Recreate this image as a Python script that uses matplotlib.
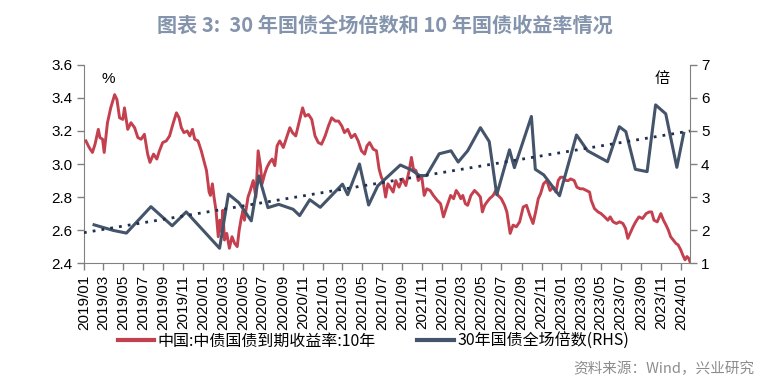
import matplotlib
matplotlib.use("Agg")
import matplotlib.pyplot as plt
import matplotlib.dates as mdates
import numpy as np
import pandas as pd

plt.rcParams['font.family'] = ['Noto Sans CJK SC', 'DejaVu Sans']

# 10Y yield (%)
yield_dates = [
    "2019-01-07", "2019-01-17", "2019-01-27", "2019-02-04", "2019-02-14", "2019-02-19", "2019-02-27",
    "2019-03-04", "2019-03-14", "2019-03-24", "2019-04-05", "2019-04-12", "2019-04-20", "2019-04-30",
    "2019-05-05", "2019-05-15", "2019-05-25", "2019-06-05", "2019-06-15", "2019-06-25", "2019-07-05",
    "2019-07-15", "2019-07-22", "2019-08-02", "2019-08-12", "2019-08-20", "2019-08-30", "2019-09-10",
    "2019-09-20", "2019-09-30", "2019-10-11", "2019-10-19", "2019-10-26", "2019-11-03", "2019-11-13",
    "2019-11-21", "2019-11-29", "2019-12-06", "2019-12-16", "2019-12-26", "2020-01-11", "2020-01-19",
    "2020-01-23", "2020-01-29", "2020-02-03", "2020-02-09", "2020-02-16", "2020-02-21", "2020-02-26",
    "2020-03-01", "2020-03-06", "2020-03-13", "2020-03-21", "2020-03-29", "2020-04-06", "2020-04-14",
    "2020-04-20", "2020-04-27", "2020-05-02", "2020-05-06", "2020-05-17", "2020-05-24", "2020-06-02",
    "2020-06-10", "2020-06-17", "2020-06-24", "2020-06-29", "2020-07-07", "2020-07-14", "2020-07-22",
    "2020-07-30", "2020-08-07", "2020-08-14", "2020-08-22", "2020-09-02", "2020-09-12", "2020-09-22",
    "2020-09-30", "2020-10-10", "2020-10-20", "2020-10-31", "2020-11-08", "2020-11-18", "2020-11-28",
    "2020-12-08", "2020-12-18", "2020-12-28", "2021-01-08", "2021-01-18", "2021-01-28", "2021-02-08",
    "2021-02-18", "2021-02-28", "2021-03-08", "2021-03-18", "2021-03-29", "2021-04-09", "2021-04-19",
    "2021-04-29", "2021-05-09", "2021-05-16", "2021-05-24", "2021-06-04", "2021-06-14", "2021-06-22",
    "2021-06-29", "2021-07-04", "2021-07-12", "2021-07-19", "2021-07-26", "2021-08-04", "2021-08-12",
    "2021-08-22", "2021-09-02", "2021-09-12", "2021-09-22", "2021-09-29", "2021-10-05", "2021-10-13",
    "2021-10-20", "2021-10-30", "2021-11-07", "2021-11-15", "2021-11-25", "2021-12-05", "2021-12-17",
    "2021-12-27", "2022-01-05", "2022-01-13", "2022-01-20", "2022-01-27", "2022-02-05", "2022-02-13",
    "2022-02-20", "2022-02-27", "2022-03-05", "2022-03-13", "2022-03-20", "2022-03-30", "2022-04-10",
    "2022-04-20", "2022-04-28", "2022-05-04", "2022-05-11", "2022-05-18", "2022-05-26", "2022-06-06",
    "2022-06-14", "2022-06-21", "2022-07-01", "2022-07-11", "2022-07-18", "2022-07-24", "2022-07-28",
    "2022-08-06", "2022-08-16", "2022-08-26", "2022-09-06", "2022-09-16", "2022-09-26", "2022-10-06",
    "2022-10-14", "2022-10-22", "2022-10-29", "2022-11-07", "2022-11-17", "2022-11-27", "2022-12-07",
    "2022-12-15", "2022-12-22", "2022-12-29", "2023-01-07", "2023-01-15", "2023-01-22", "2023-01-29",
    "2023-02-09", "2023-02-17", "2023-02-27", "2023-03-08", "2023-03-18", "2023-03-28", "2023-04-02",
    "2023-04-12", "2023-04-23", "2023-05-02", "2023-05-13", "2023-05-23", "2023-05-30", "2023-06-08",
    "2023-06-18", "2023-06-28", "2023-07-08", "2023-07-16", "2023-07-23", "2023-07-30", "2023-08-08",
    "2023-08-16", "2023-08-26", "2023-09-06", "2023-09-17", "2023-09-27", "2023-10-04", "2023-10-11",
    "2023-10-21", "2023-11-01", "2023-11-09", "2023-11-17", "2023-11-24", "2023-12-01", "2023-12-09",
    "2023-12-17", "2023-12-24", "2024-01-01", "2024-01-07", "2024-01-14", "2024-01-20", "2024-01-25",
    "2024-01-29",
]
yield_10y = [
    3.14, 3.10, 3.07, 3.12, 3.21, 3.16, 3.15,
    3.07, 3.25, 3.34, 3.42, 3.39, 3.28, 3.27,
    3.34, 3.21, 3.25, 3.22, 3.16, 3.15, 3.18,
    3.06, 3.01, 3.06, 3.03, 3.08, 3.13, 3.14,
    3.17, 3.24, 3.31, 3.28, 3.22, 3.19, 3.20,
    3.17, 3.21, 3.15, 3.14, 3.08, 2.96, 2.83,
    2.81, 2.88, 2.80, 2.72, 2.56, 2.66, 2.59,
    2.72, 2.54, 2.58, 2.49, 2.56, 2.52, 2.50,
    2.60, 2.68, 2.72, 2.66, 2.80, 2.84, 2.90,
    2.80, 3.08, 2.99, 2.88, 2.94, 2.98, 3.01,
    3.03, 2.99, 3.11, 3.14, 3.10, 3.16, 3.22,
    3.19, 3.17, 3.25, 3.34, 3.29, 3.30, 3.27,
    3.17, 3.13, 3.12, 3.17, 3.23, 3.28, 3.26,
    3.26, 3.23, 3.19, 3.21, 3.16, 3.18, 3.14,
    3.08, 3.06, 3.11, 3.13, 3.09, 3.08, 2.97,
    2.92, 2.90, 2.80, 2.88, 2.86, 2.83, 2.90,
    2.86, 2.91, 2.87, 2.96, 3.04, 2.97, 2.96,
    2.90, 2.93, 2.81, 2.85, 2.84, 2.81, 2.78,
    2.76, 2.68, 2.73, 2.77, 2.81, 2.79, 2.84,
    2.82, 2.79, 2.81, 2.76, 2.75, 2.81, 2.84,
    2.82, 2.80, 2.71, 2.75, 2.77, 2.79, 2.81,
    2.84, 2.81, 2.79, 2.75, 2.71, 2.63, 2.58,
    2.63, 2.62, 2.65, 2.74, 2.75, 2.69, 2.64,
    2.71, 2.79, 2.82, 2.88, 2.90, 2.84, 2.86,
    2.83, 2.90, 2.92, 2.92, 2.90, 2.90, 2.91,
    2.90, 2.86, 2.85, 2.85, 2.84, 2.83, 2.78,
    2.73, 2.71, 2.70, 2.68, 2.66, 2.68, 2.65,
    2.64, 2.65, 2.64, 2.61, 2.55, 2.58, 2.62,
    2.65, 2.68, 2.67, 2.70, 2.71, 2.71, 2.66,
    2.65, 2.70, 2.66, 2.63, 2.60, 2.56, 2.54,
    2.52, 2.51, 2.48, 2.45, 2.42, 2.44, 2.43,
    2.41,
]

# 30Y bid-to-cover (times), auction dates
auction_dates = [
    "2019-02-01", "2019-04-01", "2019-05-11", "2019-07-25", "2019-09-28", "2019-11-10",
    "2020-02-20", "2020-03-18", "2020-04-19", "2020-05-27", "2020-06-19", "2020-07-17",
    "2020-08-19", "2020-10-02", "2020-10-22", "2020-11-22", "2020-12-24", "2021-03-02",
    "2021-03-18", "2021-04-23", "2021-05-21", "2021-06-18", "2021-08-26", "2021-09-29",
    "2021-10-24", "2021-11-14", "2021-12-23", "2022-01-28", "2022-02-19", "2022-03-20",
    "2022-04-28", "2022-05-25", "2022-06-17", "2022-07-26", "2022-08-10", "2022-10-01",
    "2022-10-13", "2022-11-08", "2022-12-26", "2023-02-16", "2023-03-22", "2023-05-22",
    "2023-06-27", "2023-07-17", "2023-08-15", "2023-09-20", "2023-10-16", "2023-11-16",
    "2023-12-20", "2024-01-10",
]
bid_cover = [
    2.16, 1.99, 1.91, 2.71, 2.13, 2.55,
    1.45, 3.09, 2.83, 2.28, 3.64, 2.68,
    2.78, 2.63, 2.44, 2.92, 2.69, 3.39,
    3.07, 4.00, 2.76, 3.34, 3.97, 3.82,
    3.65, 3.65, 4.31, 4.40, 4.06, 4.40,
    5.10, 4.68, 3.07, 4.43, 3.89, 5.44,
    3.84, 3.67, 3.04, 4.88, 4.40, 4.07,
    5.13, 4.98, 3.84, 3.77, 5.79, 5.52,
    3.90, 4.93,
]

red = "#C4404E"
navy = "#44546A"

yd = pd.to_datetime(yield_dates)
ad = pd.to_datetime(auction_dates)
x0 = pd.Timestamp("2019-01-01")
x1 = pd.Timestamp("2024-01-29")

fig = plt.figure(figsize=(7.7, 3.91), dpi=100)
ax = fig.add_axes([0.109, 0.327, 0.787, 0.507])
ax2 = ax.twinx()

ax.plot(yd, yield_10y, color=red, lw=2.1, zorder=3)
ax2.plot(ad, bid_cover, color=navy, lw=2.2, zorder=3)

# linear trend of the bid-to-cover series
xn = mdates.date2num(ad)
k, b = np.polyfit(xn, bid_cover, 1)
tx = np.array([mdates.date2num(x0), mdates.date2num(x1)])
ax2.plot(tx, k * tx + b, color="#1F2F4D", lw=2, ls=(0, (1, 2.2)), zorder=4)

ax.set_xlim(x0, x1)
ax.set_ylim(2.4, 3.6)
ax.set_yticks(np.arange(2.4, 3.61, 0.2))
ax.set_yticklabels(["%.1f" % v for v in np.arange(2.4, 3.61, 0.2)])
ax2.set_ylim(1, 7)
ax2.set_yticks(range(1, 8))

ticks = pd.date_range("2019-01-01", "2024-01-01", freq="2MS")
ax.set_xticks(ticks)
ax.set_xticklabels([t.strftime("%Y/%m") for t in ticks], rotation=90,
                   family="Liberation Sans", fontsize=11)

spine_c = "#808080"
for a in (ax, ax2):
    a.spines["top"].set_visible(False)
    for s in ("left", "right", "bottom"):
        a.spines[s].set_color(spine_c)
    a.tick_params(color=spine_c, length=5, width=1, labelsize=11, labelcolor="#000000")
ax.spines["right"].set_visible(False)
ax2.spines["left"].set_visible(False)
ax2.spines["bottom"].set_visible(False)
for lab in ax.get_yticklabels() + ax2.get_yticklabels():
    lab.set_family("Liberation Sans")
ax.tick_params(axis="y", pad=3)
ax2.tick_params(axis="y", pad=3)

ax.text(0.04, 0.93, "%", transform=ax.transAxes, fontsize=11, ha="center", va="center",
        family="Liberation Sans")
ax.text(0.955, 0.93, "倍", transform=ax.transAxes, fontsize=11, ha="center", va="center")

fig.text(0.5, 0.935, "图表 3:  30 年国债全场倍数和 10 年国债收益率情况", ha="center", va="center",
         fontsize=14.5, fontweight="bold", color="#8494AC")

h1, = ax.plot([], [], color=red, lw=3)
h2, = ax.plot([], [], color=navy, lw=3)
fig.legend([h1, h2], ["中国:中债国债到期收益率:10年", "30年国债全场倍数(RHS)"],
           loc="center", bbox_to_anchor=(0.485, 0.128), ncol=2, frameon=False,
           fontsize=11.5, handlelength=2.3, handletextpad=0.2, columnspacing=2.6)

fig.text(0.98, 0.058, "资料来源：Wind，兴业研究", ha="right", va="center",
         fontsize=10.5, color="#8C8C8C")

fig.savefig("out.png", dpi=100)
